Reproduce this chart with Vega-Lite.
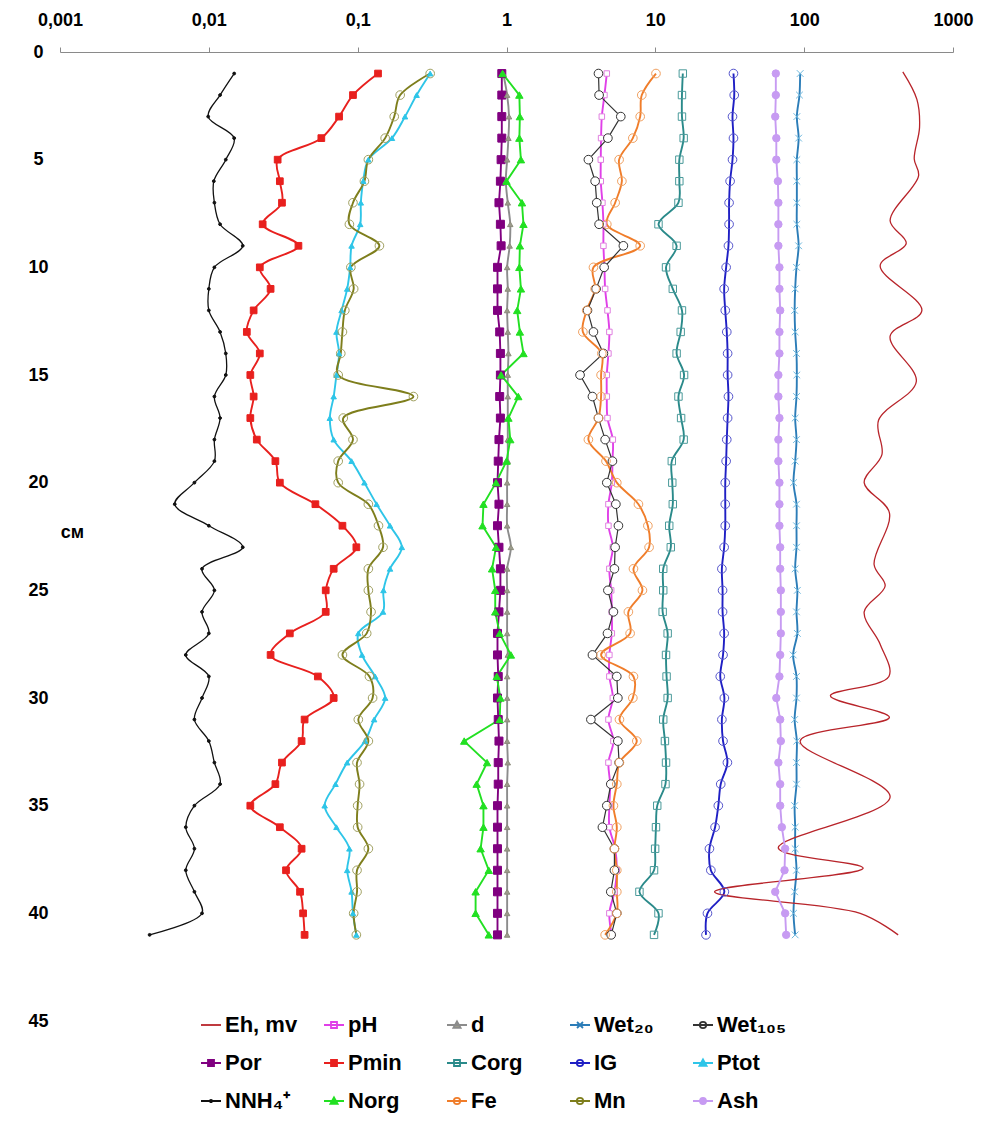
{
"$schema":"https://vega.github.io/schema/vega-lite/v6.json",
"width":893,"height":969,
"autosize":{"type":"none"},
"padding":{"left":60,"top":52,"right":31,"bottom":108},
"background":"white",
"config":{"view":{"stroke":null},"font":"Liberation Sans"},
"datasets":{"raw":[
{"s":"NH4","depth":1,"v":0.0148},{"s":"NH4","depth":2,"v":0.0119},{"s":"NH4","depth":3,"v":0.0099},{"s":"NH4","depth":4,"v":0.0148},{"s":"NH4","depth":5,"v":0.013},{"s":"NH4","depth":6,"v":0.0108},{"s":"NH4","depth":7,"v":0.0109},{"s":"NH4","depth":8,"v":0.0119},{"s":"NH4","depth":9,"v":0.0169},{"s":"NH4","depth":10,"v":0.0109},{"s":"NH4","depth":11,"v":0.01},{"s":"NH4","depth":12,"v":0.01},{"s":"NH4","depth":13,"v":0.0119},{"s":"NH4","depth":14,"v":0.013},{"s":"NH4","depth":15,"v":0.013},{"s":"NH4","depth":16,"v":0.0109},{"s":"NH4","depth":17,"v":0.0119},{"s":"NH4","depth":18,"v":0.0109},{"s":"NH4","depth":19,"v":0.0109},{"s":"NH4","depth":20,"v":0.008},{"s":"NH4","depth":21,"v":0.0059},{"s":"NH4","depth":22,"v":0.01},{"s":"NH4","depth":23,"v":0.0169},{"s":"NH4","depth":24,"v":0.009},{"s":"NH4","depth":25,"v":0.0109},{"s":"NH4","depth":26,"v":0.009},{"s":"NH4","depth":27,"v":0.01},{"s":"NH4","depth":28,"v":0.007},{"s":"NH4","depth":29,"v":0.01},{"s":"NH4","depth":30,"v":0.009},{"s":"NH4","depth":31,"v":0.008},{"s":"NH4","depth":32,"v":0.01},{"s":"NH4","depth":33,"v":0.0109},{"s":"NH4","depth":34,"v":0.0119},{"s":"NH4","depth":35,"v":0.008},{"s":"NH4","depth":36,"v":0.007},{"s":"NH4","depth":37,"v":0.008},{"s":"NH4","depth":38,"v":0.007},{"s":"NH4","depth":39,"v":0.008},{"s":"NH4","depth":40,"v":0.009},{"s":"NH4","depth":41,"v":0.004},
{"s":"Pmin","depth":1,"v":0.137},{"s":"Pmin","depth":2,"v":0.093},{"s":"Pmin","depth":3,"v":0.075},{"s":"Pmin","depth":4,"v":0.057},{"s":"Pmin","depth":5,"v":0.029},{"s":"Pmin","depth":6,"v":0.03},{"s":"Pmin","depth":7,"v":0.031},{"s":"Pmin","depth":8,"v":0.023},{"s":"Pmin","depth":9,"v":0.04},{"s":"Pmin","depth":10,"v":0.022},{"s":"Pmin","depth":11,"v":0.026},{"s":"Pmin","depth":12,"v":0.02},{"s":"Pmin","depth":13,"v":0.018},{"s":"Pmin","depth":14,"v":0.022},{"s":"Pmin","depth":15,"v":0.019},{"s":"Pmin","depth":16,"v":0.02},{"s":"Pmin","depth":17,"v":0.019},{"s":"Pmin","depth":18,"v":0.021},{"s":"Pmin","depth":19,"v":0.028},{"s":"Pmin","depth":20,"v":0.03},{"s":"Pmin","depth":21,"v":0.052},{"s":"Pmin","depth":22,"v":0.079},{"s":"Pmin","depth":23,"v":0.098},{"s":"Pmin","depth":24,"v":0.069},{"s":"Pmin","depth":25,"v":0.061},{"s":"Pmin","depth":26,"v":0.061},{"s":"Pmin","depth":27,"v":0.035},{"s":"Pmin","depth":28,"v":0.026},{"s":"Pmin","depth":29,"v":0.054},{"s":"Pmin","depth":30,"v":0.069},{"s":"Pmin","depth":31,"v":0.044},{"s":"Pmin","depth":32,"v":0.042},{"s":"Pmin","depth":33,"v":0.031},{"s":"Pmin","depth":34,"v":0.028},{"s":"Pmin","depth":35,"v":0.019},{"s":"Pmin","depth":36,"v":0.03},{"s":"Pmin","depth":37,"v":0.042},{"s":"Pmin","depth":38,"v":0.033},{"s":"Pmin","depth":39,"v":0.041},{"s":"Pmin","depth":40,"v":0.043},{"s":"Pmin","depth":41,"v":0.044},
{"s":"Ptot","depth":1,"v":0.307},{"s":"Ptot","depth":2,"v":0.249},{"s":"Ptot","depth":3,"v":0.208},{"s":"Ptot","depth":4,"v":0.17},{"s":"Ptot","depth":5,"v":0.118},{"s":"Ptot","depth":6,"v":0.109},{"s":"Ptot","depth":7,"v":0.105},{"s":"Ptot","depth":8,"v":0.104},{"s":"Ptot","depth":9,"v":0.091},{"s":"Ptot","depth":10,"v":0.089},{"s":"Ptot","depth":11,"v":0.085},{"s":"Ptot","depth":12,"v":0.078},{"s":"Ptot","depth":13,"v":0.072},{"s":"Ptot","depth":14,"v":0.075},{"s":"Ptot","depth":15,"v":0.072},{"s":"Ptot","depth":16,"v":0.069},{"s":"Ptot","depth":17,"v":0.065},{"s":"Ptot","depth":18,"v":0.069},{"s":"Ptot","depth":19,"v":0.091},{"s":"Ptot","depth":20,"v":0.111},{"s":"Ptot","depth":21,"v":0.134},{"s":"Ptot","depth":22,"v":0.165},{"s":"Ptot","depth":23,"v":0.198},{"s":"Ptot","depth":24,"v":0.165},{"s":"Ptot","depth":25,"v":0.149},{"s":"Ptot","depth":26,"v":0.148},{"s":"Ptot","depth":27,"v":0.101},{"s":"Ptot","depth":28,"v":0.107},{"s":"Ptot","depth":29,"v":0.131},{"s":"Ptot","depth":30,"v":0.153},{"s":"Ptot","depth":31,"v":0.129},{"s":"Ptot","depth":32,"v":0.112},{"s":"Ptot","depth":33,"v":0.085},{"s":"Ptot","depth":34,"v":0.071},{"s":"Ptot","depth":35,"v":0.06},{"s":"Ptot","depth":36,"v":0.072},{"s":"Ptot","depth":37,"v":0.088},{"s":"Ptot","depth":38,"v":0.085},{"s":"Ptot","depth":39,"v":0.091},{"s":"Ptot","depth":40,"v":0.093},{"s":"Ptot","depth":41,"v":0.098},
{"s":"Mn","depth":1,"v":0.307},{"s":"Mn","depth":2,"v":0.193},{"s":"Mn","depth":3,"v":0.176},{"s":"Mn","depth":4,"v":0.153},{"s":"Mn","depth":5,"v":0.118},{"s":"Mn","depth":6,"v":0.111},{"s":"Mn","depth":7,"v":0.093},{"s":"Mn","depth":8,"v":0.088},{"s":"Mn","depth":9,"v":0.14},{"s":"Mn","depth":10,"v":0.09},{"s":"Mn","depth":11,"v":0.094},{"s":"Mn","depth":12,"v":0.082},{"s":"Mn","depth":13,"v":0.079},{"s":"Mn","depth":14,"v":0.077},{"s":"Mn","depth":15,"v":0.074},{"s":"Mn","depth":16,"v":0.237},{"s":"Mn","depth":17,"v":0.08},{"s":"Mn","depth":18,"v":0.093},{"s":"Mn","depth":19,"v":0.074},{"s":"Mn","depth":20,"v":0.074},{"s":"Mn","depth":21,"v":0.118},{"s":"Mn","depth":22,"v":0.138},{"s":"Mn","depth":23,"v":0.148},{"s":"Mn","depth":24,"v":0.118},{"s":"Mn","depth":25,"v":0.118},{"s":"Mn","depth":26,"v":0.123},{"s":"Mn","depth":27,"v":0.115},{"s":"Mn","depth":28,"v":0.079},{"s":"Mn","depth":29,"v":0.12},{"s":"Mn","depth":30,"v":0.126},{"s":"Mn","depth":31,"v":0.101},{"s":"Mn","depth":32,"v":0.118},{"s":"Mn","depth":33,"v":0.099},{"s":"Mn","depth":34,"v":0.103},{"s":"Mn","depth":35,"v":0.1},{"s":"Mn","depth":36,"v":0.1},{"s":"Mn","depth":37,"v":0.118},{"s":"Mn","depth":38,"v":0.099},{"s":"Mn","depth":39,"v":0.099},{"s":"Mn","depth":40,"v":0.094},{"s":"Mn","depth":41,"v":0.098},
{"s":"Por","depth":1,"v":0.93},{"s":"Por","depth":2,"v":0.93},{"s":"Por","depth":3,"v":0.93},{"s":"Por","depth":4,"v":0.93},{"s":"Por","depth":5,"v":0.92},{"s":"Por","depth":6,"v":0.91},{"s":"Por","depth":7,"v":0.89},{"s":"Por","depth":8,"v":0.91},{"s":"Por","depth":9,"v":0.92},{"s":"Por","depth":10,"v":0.87},{"s":"Por","depth":11,"v":0.87},{"s":"Por","depth":12,"v":0.87},{"s":"Por","depth":13,"v":0.9},{"s":"Por","depth":14,"v":0.91},{"s":"Por","depth":15,"v":0.91},{"s":"Por","depth":16,"v":0.9},{"s":"Por","depth":17,"v":0.91},{"s":"Por","depth":18,"v":0.89},{"s":"Por","depth":19,"v":0.88},{"s":"Por","depth":20,"v":0.87},{"s":"Por","depth":21,"v":0.89},{"s":"Por","depth":22,"v":0.87},{"s":"Por","depth":23,"v":0.89},{"s":"Por","depth":24,"v":0.91},{"s":"Por","depth":25,"v":0.91},{"s":"Por","depth":26,"v":0.89},{"s":"Por","depth":27,"v":0.87},{"s":"Por","depth":28,"v":0.87},{"s":"Por","depth":29,"v":0.88},{"s":"Por","depth":30,"v":0.87},{"s":"Por","depth":31,"v":0.88},{"s":"Por","depth":32,"v":0.89},{"s":"Por","depth":33,"v":0.88},{"s":"Por","depth":34,"v":0.88},{"s":"Por","depth":35,"v":0.87},{"s":"Por","depth":36,"v":0.87},{"s":"Por","depth":37,"v":0.87},{"s":"Por","depth":38,"v":0.87},{"s":"Por","depth":39,"v":0.87},{"s":"Por","depth":40,"v":0.87},{"s":"Por","depth":41,"v":0.87},
{"s":"d","depth":1,"v":0.95},{"s":"d","depth":2,"v":1.01},{"s":"d","depth":3,"v":1.04},{"s":"d","depth":4,"v":1.03},{"s":"d","depth":5,"v":1.01},{"s":"d","depth":6,"v":0.99},{"s":"d","depth":7,"v":1.02},{"s":"d","depth":8,"v":1.06},{"s":"d","depth":9,"v":1.05},{"s":"d","depth":10,"v":1.01},{"s":"d","depth":11,"v":1.02},{"s":"d","depth":12,"v":1.01},{"s":"d","depth":13,"v":1.02},{"s":"d","depth":14,"v":1.03},{"s":"d","depth":15,"v":1.02},{"s":"d","depth":16,"v":1.02},{"s":"d","depth":17,"v":1.02},{"s":"d","depth":18,"v":1.02},{"s":"d","depth":19,"v":1.02},{"s":"d","depth":20,"v":1.01},{"s":"d","depth":21,"v":1.01},{"s":"d","depth":22,"v":1.01},{"s":"d","depth":23,"v":1.07},{"s":"d","depth":24,"v":1.01},{"s":"d","depth":25,"v":1.01},{"s":"d","depth":26,"v":1.01},{"s":"d","depth":27,"v":1.01},{"s":"d","depth":28,"v":1.02},{"s":"d","depth":29,"v":1.01},{"s":"d","depth":30,"v":1.01},{"s":"d","depth":31,"v":1.01},{"s":"d","depth":32,"v":1.01},{"s":"d","depth":33,"v":1.02},{"s":"d","depth":34,"v":1.01},{"s":"d","depth":35,"v":1.01},{"s":"d","depth":36,"v":1.01},{"s":"d","depth":37,"v":1.01},{"s":"d","depth":38,"v":1.01},{"s":"d","depth":39,"v":1.01},{"s":"d","depth":40,"v":1.01},{"s":"d","depth":41,"v":1.01},
{"s":"Norg","depth":1,"v":0.94},{"s":"Norg","depth":2,"v":1.22},{"s":"Norg","depth":3,"v":1.23},{"s":"Norg","depth":4,"v":1.22},{"s":"Norg","depth":5,"v":1.25},{"s":"Norg","depth":6,"v":1.0},{"s":"Norg","depth":7,"v":1.27},{"s":"Norg","depth":8,"v":1.3},{"s":"Norg","depth":9,"v":1.23},{"s":"Norg","depth":10,"v":1.22},{"s":"Norg","depth":11,"v":1.25},{"s":"Norg","depth":12,"v":1.18},{"s":"Norg","depth":13,"v":1.23},{"s":"Norg","depth":14,"v":1.3},{"s":"Norg","depth":15,"v":0.92},{"s":"Norg","depth":16,"v":1.2},{"s":"Norg","depth":17,"v":1.03},{"s":"Norg","depth":18,"v":1.06},{"s":"Norg","depth":19,"v":1.0},{"s":"Norg","depth":20,"v":0.85},{"s":"Norg","depth":21,"v":0.7},{"s":"Norg","depth":22,"v":0.69},{"s":"Norg","depth":23,"v":0.85},{"s":"Norg","depth":24,"v":0.8},{"s":"Norg","depth":25,"v":0.84},{"s":"Norg","depth":26,"v":0.84},{"s":"Norg","depth":27,"v":0.9},{"s":"Norg","depth":28,"v":1.07},{"s":"Norg","depth":29,"v":0.86},{"s":"Norg","depth":30,"v":0.91},{"s":"Norg","depth":31,"v":0.9},{"s":"Norg","depth":32,"v":0.52},{"s":"Norg","depth":33,"v":0.74},{"s":"Norg","depth":34,"v":0.63},{"s":"Norg","depth":35,"v":0.7},{"s":"Norg","depth":36,"v":0.7},{"s":"Norg","depth":37,"v":0.67},{"s":"Norg","depth":38,"v":0.76},{"s":"Norg","depth":39,"v":0.62},{"s":"Norg","depth":40,"v":0.62},{"s":"Norg","depth":41,"v":0.76},
{"s":"pH","depth":1,"v":4.72},{"s":"pH","depth":2,"v":4.55},{"s":"pH","depth":3,"v":4.37},{"s":"pH","depth":4,"v":4.32},{"s":"pH","depth":5,"v":4.3},{"s":"pH","depth":6,"v":4.3},{"s":"pH","depth":7,"v":4.41},{"s":"pH","depth":8,"v":4.48},{"s":"pH","depth":9,"v":4.48},{"s":"pH","depth":10,"v":4.55},{"s":"pH","depth":11,"v":4.6},{"s":"pH","depth":12,"v":4.77},{"s":"pH","depth":13,"v":4.91},{"s":"pH","depth":14,"v":4.84},{"s":"pH","depth":15,"v":4.72},{"s":"pH","depth":16,"v":4.72},{"s":"pH","depth":17,"v":4.77},{"s":"pH","depth":18,"v":5.18},{"s":"pH","depth":19,"v":5.15},{"s":"pH","depth":20,"v":5.1},{"s":"pH","depth":21,"v":4.84},{"s":"pH","depth":22,"v":4.84},{"s":"pH","depth":23,"v":5.18},{"s":"pH","depth":24,"v":4.91},{"s":"pH","depth":25,"v":5.05},{"s":"pH","depth":26,"v":5.1},{"s":"pH","depth":27,"v":5.1},{"s":"pH","depth":28,"v":4.91},{"s":"pH","depth":29,"v":4.91},{"s":"pH","depth":30,"v":5.18},{"s":"pH","depth":31,"v":4.84},{"s":"pH","depth":32,"v":5.23},{"s":"pH","depth":33,"v":4.84},{"s":"pH","depth":34,"v":4.97},{"s":"pH","depth":35,"v":4.91},{"s":"pH","depth":36,"v":4.91},{"s":"pH","depth":37,"v":5.37},{"s":"pH","depth":38,"v":5.51},{"s":"pH","depth":39,"v":5.31},{"s":"pH","depth":40,"v":4.91},{"s":"pH","depth":41,"v":5.1},
{"s":"W105","depth":1,"v":4.15},{"s":"W105","depth":2,"v":4.19},{"s":"W105","depth":3,"v":5.86},{"s":"W105","depth":4,"v":4.8},{"s":"W105","depth":5,"v":3.55},{"s":"W105","depth":6,"v":3.94},{"s":"W105","depth":7,"v":4.04},{"s":"W105","depth":8,"v":4.19},{"s":"W105","depth":9,"v":6.1},{"s":"W105","depth":10,"v":4.53},{"s":"W105","depth":11,"v":4.0},{"s":"W105","depth":12,"v":3.5},{"s":"W105","depth":13,"v":3.84},{"s":"W105","depth":14,"v":4.48},{"s":"W105","depth":15,"v":3.12},{"s":"W105","depth":16,"v":3.78},{"s":"W105","depth":17,"v":4.15},{"s":"W105","depth":18,"v":4.6},{"s":"W105","depth":19,"v":5.15},{"s":"W105","depth":20,"v":4.72},{"s":"W105","depth":21,"v":5.43},{"s":"W105","depth":22,"v":5.65},{"s":"W105","depth":23,"v":5.37},{"s":"W105","depth":24,"v":5.31},{"s":"W105","depth":25,"v":4.8},{"s":"W105","depth":26,"v":5.23},{"s":"W105","depth":27,"v":4.77},{"s":"W105","depth":28,"v":3.78},{"s":"W105","depth":29,"v":5.51},{"s":"W105","depth":30,"v":5.6},{"s":"W105","depth":31,"v":3.69},{"s":"W105","depth":32,"v":5.6},{"s":"W105","depth":33,"v":5.71},{"s":"W105","depth":34,"v":5.02},{"s":"W105","depth":35,"v":4.72},{"s":"W105","depth":36,"v":4.41},{"s":"W105","depth":37,"v":5.31},{"s":"W105","depth":38,"v":5.31},{"s":"W105","depth":39,"v":5.02},{"s":"W105","depth":40,"v":5.51},{"s":"W105","depth":41,"v":5.05},
{"s":"Fe","depth":1,"v":10.1},{"s":"Fe","depth":2,"v":8.11},{"s":"Fe","depth":3,"v":7.91},{"s":"Fe","depth":4,"v":7.06},{"s":"Fe","depth":5,"v":5.71},{"s":"Fe","depth":6,"v":5.96},{"s":"Fe","depth":7,"v":5.37},{"s":"Fe","depth":8,"v":4.72},{"s":"Fe","depth":9,"v":7.91},{"s":"Fe","depth":10,"v":3.84},{"s":"Fe","depth":11,"v":3.94},{"s":"Fe","depth":12,"v":3.46},{"s":"Fe","depth":13,"v":3.26},{"s":"Fe","depth":14,"v":4.37},{"s":"Fe","depth":15,"v":4.32},{"s":"Fe","depth":16,"v":4.32},{"s":"Fe","depth":17,"v":4.15},{"s":"Fe","depth":18,"v":3.55},{"s":"Fe","depth":19,"v":4.66},{"s":"Fe","depth":20,"v":5.51},{"s":"Fe","depth":21,"v":7.7},{"s":"Fe","depth":22,"v":8.91},{"s":"Fe","depth":23,"v":9.08},{"s":"Fe","depth":24,"v":7.13},{"s":"Fe","depth":25,"v":8.19},{"s":"Fe","depth":26,"v":6.59},{"s":"Fe","depth":27,"v":6.77},{"s":"Fe","depth":28,"v":4.32},{"s":"Fe","depth":29,"v":7.13},{"s":"Fe","depth":30,"v":7.06},{"s":"Fe","depth":31,"v":5.74},{"s":"Fe","depth":32,"v":7.51},{"s":"Fe","depth":33,"v":5.74},{"s":"Fe","depth":34,"v":5.51},{"s":"Fe","depth":35,"v":5.23},{"s":"Fe","depth":36,"v":5.51},{"s":"Fe","depth":37,"v":5.31},{"s":"Fe","depth":38,"v":5.51},{"s":"Fe","depth":39,"v":5.51},{"s":"Fe","depth":40,"v":5.51},{"s":"Fe","depth":41,"v":4.6},
{"s":"Corg","depth":1,"v":15.3},{"s":"Corg","depth":2,"v":15.1},{"s":"Corg","depth":3,"v":15.1},{"s":"Corg","depth":4,"v":15.5},{"s":"Corg","depth":5,"v":14.5},{"s":"Corg","depth":6,"v":14.5},{"s":"Corg","depth":7,"v":14.3},{"s":"Corg","depth":8,"v":10.5},{"s":"Corg","depth":9,"v":13.9},{"s":"Corg","depth":10,"v":11.8},{"s":"Corg","depth":11,"v":13.1},{"s":"Corg","depth":12,"v":15.1},{"s":"Corg","depth":13,"v":14.8},{"s":"Corg","depth":14,"v":13.9},{"s":"Corg","depth":15,"v":15.6},{"s":"Corg","depth":16,"v":14.3},{"s":"Corg","depth":17,"v":14.9},{"s":"Corg","depth":18,"v":15.5},{"s":"Corg","depth":19,"v":12.9},{"s":"Corg","depth":20,"v":13.0},{"s":"Corg","depth":21,"v":13.1},{"s":"Corg","depth":22,"v":12.4},{"s":"Corg","depth":23,"v":12.7},{"s":"Corg","depth":24,"v":11.3},{"s":"Corg","depth":25,"v":11.3},{"s":"Corg","depth":26,"v":11.2},{"s":"Corg","depth":27,"v":12.1},{"s":"Corg","depth":28,"v":11.8},{"s":"Corg","depth":29,"v":11.9},{"s":"Corg","depth":30,"v":12.1},{"s":"Corg","depth":31,"v":11.3},{"s":"Corg","depth":32,"v":11.6},{"s":"Corg","depth":33,"v":11.8},{"s":"Corg","depth":34,"v":11.7},{"s":"Corg","depth":35,"v":10.3},{"s":"Corg","depth":36,"v":10.1},{"s":"Corg","depth":37,"v":9.97},{"s":"Corg","depth":38,"v":9.8},{"s":"Corg","depth":39,"v":7.82},{"s":"Corg","depth":40,"v":10.5},{"s":"Corg","depth":41,"v":9.8},
{"s":"IG","depth":1,"v":33.5},{"s":"IG","depth":2,"v":33.9},{"s":"IG","depth":3,"v":33.0},{"s":"IG","depth":4,"v":33.5},{"s":"IG","depth":5,"v":33.0},{"s":"IG","depth":6,"v":31.8},{"s":"IG","depth":7,"v":31.3},{"s":"IG","depth":8,"v":31.3},{"s":"IG","depth":9,"v":31.0},{"s":"IG","depth":10,"v":29.9},{"s":"IG","depth":11,"v":29.0},{"s":"IG","depth":12,"v":29.5},{"s":"IG","depth":13,"v":30.2},{"s":"IG","depth":14,"v":30.6},{"s":"IG","depth":15,"v":30.6},{"s":"IG","depth":16,"v":31.0},{"s":"IG","depth":17,"v":30.6},{"s":"IG","depth":18,"v":30.2},{"s":"IG","depth":19,"v":29.9},{"s":"IG","depth":20,"v":29.5},{"s":"IG","depth":21,"v":29.5},{"s":"IG","depth":22,"v":29.5},{"s":"IG","depth":23,"v":29.0},{"s":"IG","depth":24,"v":28.0},{"s":"IG","depth":25,"v":28.3},{"s":"IG","depth":26,"v":28.3},{"s":"IG","depth":27,"v":29.0},{"s":"IG","depth":28,"v":28.5},{"s":"IG","depth":29,"v":27.3},{"s":"IG","depth":30,"v":29.1},{"s":"IG","depth":31,"v":28.0},{"s":"IG","depth":32,"v":28.5},{"s":"IG","depth":33,"v":30.5},{"s":"IG","depth":34,"v":27.5},{"s":"IG","depth":35,"v":26.5},{"s":"IG","depth":36,"v":25.2},{"s":"IG","depth":37,"v":23.1},{"s":"IG","depth":38,"v":23.6},{"s":"IG","depth":39,"v":29.1},{"s":"IG","depth":40,"v":22.4},{"s":"IG","depth":41,"v":21.9},
{"s":"Ash","depth":1,"v":64.5},{"s":"Ash","depth":2,"v":64.5},{"s":"Ash","depth":3,"v":63.9},{"s":"Ash","depth":4,"v":65.0},{"s":"Ash","depth":5,"v":65.0},{"s":"Ash","depth":6,"v":66.6},{"s":"Ash","depth":7,"v":67.1},{"s":"Ash","depth":8,"v":67.1},{"s":"Ash","depth":9,"v":67.1},{"s":"Ash","depth":10,"v":68.2},{"s":"Ash","depth":11,"v":68.2},{"s":"Ash","depth":12,"v":69.0},{"s":"Ash","depth":13,"v":68.2},{"s":"Ash","depth":14,"v":68.2},{"s":"Ash","depth":15,"v":67.1},{"s":"Ash","depth":16,"v":67.1},{"s":"Ash","depth":17,"v":68.2},{"s":"Ash","depth":18,"v":67.1},{"s":"Ash","depth":19,"v":67.1},{"s":"Ash","depth":20,"v":68.2},{"s":"Ash","depth":21,"v":68.2},{"s":"Ash","depth":22,"v":68.2},{"s":"Ash","depth":23,"v":69.0},{"s":"Ash","depth":24,"v":69.0},{"s":"Ash","depth":25,"v":69.7},{"s":"Ash","depth":26,"v":69.7},{"s":"Ash","depth":27,"v":69.7},{"s":"Ash","depth":28,"v":69.0},{"s":"Ash","depth":29,"v":68.2},{"s":"Ash","depth":30,"v":65.0},{"s":"Ash","depth":31,"v":69.0},{"s":"Ash","depth":32,"v":69.7},{"s":"Ash","depth":33,"v":67.1},{"s":"Ash","depth":34,"v":69.0},{"s":"Ash","depth":35,"v":69.0},{"s":"Ash","depth":36,"v":70.8},{"s":"Ash","depth":37,"v":74.5},{"s":"Ash","depth":38,"v":73.8},{"s":"Ash","depth":39,"v":63.9},{"s":"Ash","depth":40,"v":74.5},{"s":"Ash","depth":41,"v":75.7},
{"s":"W20","depth":1,"v":94.0},{"s":"W20","depth":2,"v":93.0},{"s":"W20","depth":3,"v":89.3},{"s":"W20","depth":4,"v":91.8},{"s":"W20","depth":5,"v":89.3},{"s":"W20","depth":6,"v":89.3},{"s":"W20","depth":7,"v":89.3},{"s":"W20","depth":8,"v":89.3},{"s":"W20","depth":9,"v":91.8},{"s":"W20","depth":10,"v":88.8},{"s":"W20","depth":11,"v":87.0},{"s":"W20","depth":12,"v":86.3},{"s":"W20","depth":13,"v":87.0},{"s":"W20","depth":14,"v":88.8},{"s":"W20","depth":15,"v":89.3},{"s":"W20","depth":16,"v":88.8},{"s":"W20","depth":17,"v":87.0},{"s":"W20","depth":18,"v":88.8},{"s":"W20","depth":19,"v":87.0},{"s":"W20","depth":20,"v":84.8},{"s":"W20","depth":21,"v":88.8},{"s":"W20","depth":22,"v":88.8},{"s":"W20","depth":23,"v":88.8},{"s":"W20","depth":24,"v":87.0},{"s":"W20","depth":25,"v":90.0},{"s":"W20","depth":26,"v":88.8},{"s":"W20","depth":27,"v":90.0},{"s":"W20","depth":28,"v":84.3},{"s":"W20","depth":29,"v":88.8},{"s":"W20","depth":30,"v":88.8},{"s":"W20","depth":31,"v":86.3},{"s":"W20","depth":32,"v":89.3},{"s":"W20","depth":33,"v":88.8},{"s":"W20","depth":34,"v":88.8},{"s":"W20","depth":35,"v":86.3},{"s":"W20","depth":36,"v":87.0},{"s":"W20","depth":37,"v":87.0},{"s":"W20","depth":38,"v":88.8},{"s":"W20","depth":39,"v":86.3},{"s":"W20","depth":40,"v":84.8},{"s":"W20","depth":41,"v":87.0},
{"s":"Eh","depth":0.92,"v":460},{"s":"Eh","depth":2.2,"v":572},{"s":"Eh","depth":3.5,"v":596},{"s":"Eh","depth":4.97,"v":549},{"s":"Eh","depth":5.75,"v":587},{"s":"Eh","depth":7.84,"v":378},{"s":"Eh","depth":8.88,"v":485},{"s":"Eh","depth":9.93,"v":324},{"s":"Eh","depth":12.0,"v":618},{"s":"Eh","depth":13.2,"v":378},{"s":"Eh","depth":15.3,"v":567},{"s":"Eh","depth":17.1,"v":316},{"s":"Eh","depth":18.7,"v":333},{"s":"Eh","depth":20.0,"v":253},{"s":"Eh","depth":21.4,"v":374},{"s":"Eh","depth":23.8,"v":295},{"s":"Eh","depth":24.8,"v":350},{"s":"Eh","depth":26.0,"v":253},{"s":"Eh","depth":27.5,"v":324},{"s":"Eh","depth":29.0,"v":371},{"s":"Eh","depth":29.9,"v":150},{"s":"Eh","depth":30.9,"v":374},{"s":"Eh","depth":32.0,"v":94},{"s":"Eh","depth":34.6,"v":378},{"s":"Eh","depth":36.96,"v":67},{"s":"Eh","depth":37.9,"v":249},{"s":"Eh","depth":39.0,"v":25},{"s":"Eh","depth":40.0,"v":238},{"s":"Eh","depth":41.0,"v":428}
]},
"data":{"name":"raw"},
"layer":[
{
"transform":[{"filter":{"field":"s","oneOf":["Pmin","Ptot","Mn","pH","Fe","Corg","IG","W20","d"]}}],
"mark":{"type":"line","interpolate":"catmull-rom","strokeWidth":1.9},
"encoding":{
"x":{"field":"v","type":"quantitative","scale":{"type":"log","domain":[0.001,1000],"nice":false},
"axis":{"orient":"top","values":[0.001,0.01,0.1,1,10,100,1000],"labelExpr":"replace(toString(datum.value),'.',',')","title":null,"grid":false,"domainColor":"#8a8a8a","domainWidth":1,"tickColor":"#8a8a8a","tickSize":5,"labelPadding":18,"labelFont":"Liberation Sans","labelFontSize":18,"labelFontWeight":"bold","labelColor":"black","labelFlush":false,"labelOverlap":false,
"encode":{"labels":{"update":{"align":{"signal":"datum.value==0.001||datum.value==1000?'right':'center'"},"dx":{"signal":"datum.value==0.001?-4:datum.value==1000?2:0"}}}}}},
"y":{"field":"depth","type":"quantitative","scale":{"domain":[0,45],"reverse":true,"nice":false,"zero":false},
"axis":{"orient":"left","values":[0,5,10,15,20,25,30,35,40,45],"title":"см","titleAngle":0,"titleX":12,"titleY":480,"titleAlign":"center","titleBaseline":"middle","titleFont":"Liberation Sans","titleFontSize":18,"titleFontWeight":"bold","titleColor":"black","domain":false,"ticks":false,"tickSize":0,"grid":false,"labelAlign":"center","labelBaseline":"middle","labelPadding":22,"labelFont":"Liberation Sans","labelFontSize":18,"labelFontWeight":"bold","labelColor":"black","labelFlush":false}},
"color":{"field":"s","type":"nominal",
"scale":{"domain":["Eh","pH","d","W20","W105","Por","Pmin","Corg","IG","Ptot","NH4","Norg","Fe","Mn","Ash"],
"range":["#B8242A","#E040E8","#8C8C8C","#2C7DB8","#333333","#800080","#E8201E","#2A8A8A","#1F1FC4","#2EC5E8","#111111","#22E022","#F07D2A","#7E7E1C","#C79BF2"]},
"legend":{"title":null,"orient":"none","legendX":140,"legendY":962,"direction":"horizontal","columns":5,"gridAlign":"all","columnPadding":22,"rowPadding":16,
"symbolSize":400,"symbolStrokeWidth":1.8,"symbolType":"stroke",
"labelFont":"Liberation Sans","labelFontSize":22,"labelFontWeight":"bold","labelColor":"black","labelOffset":3,"labelLimit":200,
"labelExpr":"({'Eh':'Eh, mv','pH':'pH','d':'d','W20':'Wet₂₀','W105':'Wet₁₀₅','Por':'Por','Pmin':'Pmin','Corg':'Corg','IG':'IG','Ptot':'Ptot','NH4':'NNH₄⁺','Norg':'Norg','Fe':'Fe','Mn':'Mn','Ash':'Ash'})[datum.value]",
"encode":{"symbols":{"update":{
"shape":{"signal":"({'Eh':'M-1,0H1','pH':'M-1,0H1M-0.3,-0.3H0.3V0.3H-0.3Z','d':'M-1,0H1M0,-0.36L0.36,0.28H-0.36Z','W20':'M-1,0H1M-0.3,-0.3L0.3,0.3M-0.3,0.3L0.3,-0.3','W105':'M-1,0H1M0.32,0A0.32,0.32,0,1,1,-0.32,0A0.32,0.32,0,1,1,0.32,0Z','Por':'M-1,0H1M-0.3,-0.3H0.3V0.3H-0.3Z','Pmin':'M-1,0H1M-0.3,-0.3H0.3V0.3H-0.3Z','Corg':'M-1,0H1M-0.3,-0.3H0.3V0.3H-0.3Z','IG':'M-1,0H1M0.32,0A0.32,0.32,0,1,1,-0.32,0A0.32,0.32,0,1,1,0.32,0Z','Ptot':'M-1,0H1M0,-0.36L0.36,0.28H-0.36Z','NH4':'M-1,0H1M0.12,0A0.12,0.12,0,1,1,-0.12,0A0.12,0.12,0,1,1,0.12,0Z','Norg':'M-1,0H1M0,-0.36L0.36,0.28H-0.36Z','Fe':'M-1,0H1M0.32,0A0.32,0.32,0,1,1,-0.32,0A0.32,0.32,0,1,1,0.32,0Z','Mn':'M-1,0H1M0.32,0A0.32,0.32,0,1,1,-0.32,0A0.32,0.32,0,1,1,0.32,0Z','Ash':'M-1,0H1M0.3,0A0.3,0.3,0,1,1,-0.3,0A0.3,0.3,0,1,1,0.3,0Z'})[datum.value]"},
"fill":{"signal":"({'Eh':'transparent','pH':'white','d':'#9C9C8C','W20':'transparent','W105':'white','Por':'#800080','Pmin':'#E8201E','Corg':'white','IG':'white','Ptot':'#2EC5E8','NH4':'#111111','Norg':'#22E022','Fe':'white','Mn':'white','Ash':'#C79BF2'})[datum.value]"}
}}}}},
"order":{"field":"depth","type":"quantitative"}
}
},
{
"transform":[{"filter":{"field":"s","oneOf":["Eh","NH4"]}}],
"mark":{"type":"line","interpolate":"catmull-rom","strokeWidth":1.3},
"encoding":{"x":{"field":"v","type":"quantitative"},"y":{"field":"depth","type":"quantitative"},
"color":{"field":"s","type":"nominal","legend":null},"order":{"field":"depth","type":"quantitative"}}
},
{
"transform":[{"filter":{"field":"s","oneOf":["Norg","Ash","Por"]}}],
"mark":{"type":"line","interpolate":"linear","strokeWidth":1.9},
"encoding":{"x":{"field":"v","type":"quantitative"},"y":{"field":"depth","type":"quantitative"},
"color":{"field":"s","type":"nominal","legend":null},"order":{"field":"depth","type":"quantitative"}}
},
{
"transform":[{"filter":{"field":"s","oneOf":["W105"]}}],
"mark":{"type":"line","interpolate":"linear","strokeWidth":1.2},
"encoding":{"x":{"field":"v","type":"quantitative"},"y":{"field":"depth","type":"quantitative"},
"color":{"field":"s","type":"nominal","legend":null},"order":{"field":"depth","type":"quantitative"}}
},
{
"transform":[{"filter":{"not":{"field":"s","oneOf":["Eh"]}}}],
"mark":{"type":"point","filled":true,"strokeWidth":1,"opacity":1},
"encoding":{"x":{"field":"v","type":"quantitative"},"y":{"field":"depth","type":"quantitative"},
"stroke":{"field":"s","type":"nominal","legend":null,
"scale":{"domain":["pH","d","W20","W105","Por","Pmin","Corg","IG","Ptot","NH4","Norg","Fe","Mn","Ash"],
"range":["#E080E0","#8C8C7C","#6FB9DE","#333333","#800080","#E8201E","#4A9A9A","#5555CC","#2EC5E8","#111111","#22E022","#F0A060","#A0A060","#C79BF2"]}},
"fill":{"field":"s","type":"nominal","legend":null,
"scale":{"domain":["pH","d","W20","W105","Por","Pmin","Corg","IG","Ptot","NH4","Norg","Fe","Mn","Ash"],
"range":["white","#9C9C8C","transparent","white","#800080","#E8201E","transparent","transparent","#2EC5E8","#111111","#22E022","transparent","transparent","#C79BF2"]}},
"shape":{"field":"s","type":"nominal","legend":null,
"scale":{"domain":["pH","d","W20","W105","Por","Pmin","Corg","IG","Ptot","NH4","Norg","Fe","Mn","Ash"],
"range":["square","triangle-up","M-1,-1L1,1M-1,1L1,-1","circle","square","square","square","circle","triangle-up","circle","triangle-up","circle","circle","circle"]}},
"size":{"field":"s","type":"nominal","legend":null,
"scale":{"type":"ordinal","domain":["pH","d","W20","W105","Por","Pmin","Corg","IG","Ptot","NH4","Norg","Fe","Mn","Ash"],
"range":[30,30,45,75,64,45,55,75,30,8,55,75,75,55]}}}
}
]
}
